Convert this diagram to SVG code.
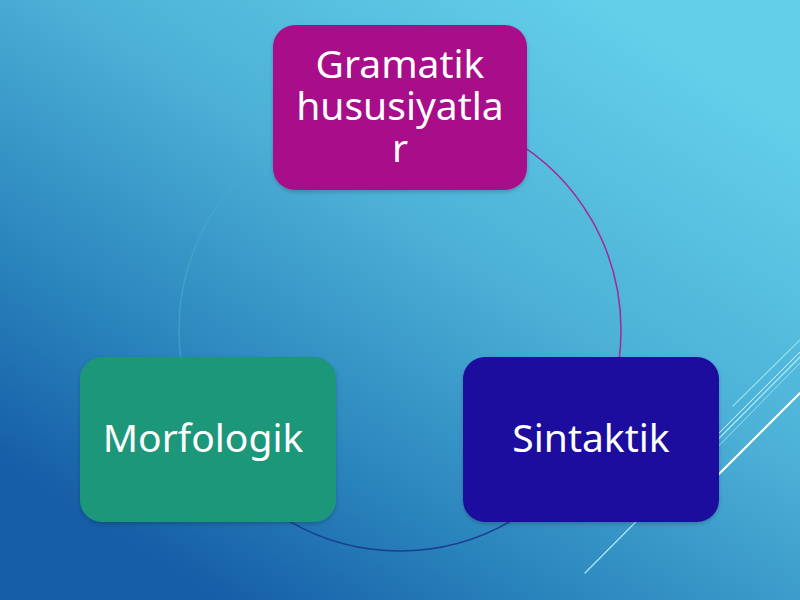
<svg xmlns="http://www.w3.org/2000/svg" width="800" height="600" viewBox="0 0 800 600">
  <defs>
    <linearGradient id="bg" x1="600" y1="0" x2="220" y2="600" gradientUnits="userSpaceOnUse">
      <stop offset="0" stop-color="#63cfe9"/>
      <stop offset="0.4" stop-color="#4db1d7"/>
      <stop offset="0.75" stop-color="#2a84bc"/>
      <stop offset="1" stop-color="#165ea7"/>
    </linearGradient>
    <filter id="sh" x="-10%" y="-10%" width="120%" height="125%">
      <feDropShadow dx="0" dy="2" stdDeviation="2" flood-color="#000" flood-opacity="0.2"/>
    </filter>
    <style>
      .box { filter: url(#sh); }
      .lbl { font-family: "Noto Sans", "Open Sans", "DejaVu Sans", sans-serif; font-size: 39px; fill: #ffffff; text-anchor: middle; }
      .arc { fill: none; stroke-width: 1.5; }
      .deco { fill: none; stroke-linecap: round; }
    </style>
  </defs>
  <rect width="800" height="600" fill="url(#bg)"/>

  <g id="decoration">
    <line class="deco" x1="733" y1="406" x2="800" y2="340" stroke="#8fe0f0" stroke-width="1.2"/>
    <line class="deco" x1="585" y1="573" x2="800" y2="357" stroke="#a8e8f6" stroke-width="1.3"/>
    <line class="deco" x1="700" y1="452" x2="800" y2="352" stroke="#d8f6fc" stroke-width="1"/>
    <line class="deco" x1="700" y1="465" x2="800" y2="363" stroke="#9adcef" stroke-width="1"/>
    <line class="deco" x1="705" y1="488" x2="800" y2="393" stroke="#ffffff" stroke-width="2"/>
  </g>

  <g id="connectors">
    <path class="arc" d="M 400 109 A 221 221 0 0 1 591.4 440.5" stroke="#a42a90"/>
    <path class="arc" d="M 591.4 440.5 A 221 221 0 0 1 208.6 440.5" stroke="#1d3c8e"/>
    <path class="arc" d="M 208.6 440.5 A 221 221 0 0 1 400 109" stroke="#3fb0c8" stroke-opacity="0.6"/>
  </g>

  <g id="node-gramatik">
    <rect class="box" x="273" y="25" width="254" height="165" rx="22" fill="#a8108a"/>
    <text class="lbl" x="400" y="78">Gramatik</text>
    <text class="lbl" x="400" y="120">hususiyatla</text>
    <text class="lbl" x="400" y="162">r</text>
  </g>

  <g id="node-sintaktik">
    <rect class="box" x="463" y="357" width="256" height="165" rx="22" fill="#1a0f9e"/>
    <text class="lbl" x="591" y="452">Sintaktik</text>
  </g>

  <g id="node-morfologik">
    <rect class="box" x="80" y="357" width="256" height="165" rx="22" fill="#1a977a"/>
    <text class="lbl" x="203" y="452">Morfologik</text>
  </g>
</svg>
